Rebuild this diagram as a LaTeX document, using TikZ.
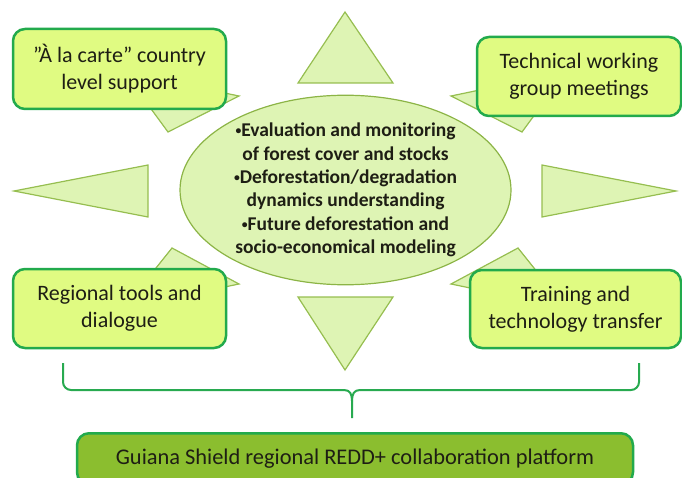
\documentclass[tikz,border=0pt]{standalone}
\usepackage{fontspec}
\setmainfont{Carlito}
\usetikzlibrary{shapes.geometric}
\definecolor{boxfill}{RGB}{224,251,130}
\definecolor{boxline}{RGB}{34,170,76}
\definecolor{trifill}{RGB}{222,244,180}
\definecolor{triline}{RGB}{150,190,80}
\definecolor{ellline}{RGB}{140,180,70}
\definecolor{darkfill}{RGB}{139,190,47}
\definecolor{bracecol}{RGB}{40,170,80}
\definecolor{txt}{RGB}{30,30,20}
\newcommand{\smallbul}{\raisebox{0.22ex}{\scalebox{0.6}{\textbullet}}}
\tikzset{
  tri/.style={fill=trifill, draw=triline, line width=1.2pt, line join=miter},
  greenbox/.style={draw=boxline, fill=boxfill, line width=2.5pt, rounded corners=12pt,
    align=center, text=txt, font=\fontsize{22}{27}\selectfont, inner sep=0pt},
  platform/.style={draw=boxline, fill=darkfill, line width=2.5pt, rounded corners=12pt,
    align=center, text=txt, font=\fontsize{22.4}{27}\selectfont, inner xsep=0pt},
  core/.style={ellipse, draw=ellline, fill=trifill, line width=1.2pt, inner sep=0pt,
    align=center, text=txt, font=\bfseries\fontsize{19.5}{23.4}\selectfont},
  bracestyle/.style={draw=bracecol, line width=2pt, rounded corners=8pt}
}
\begin{document}
\begin{tikzpicture}[x=1pt,y=-1pt]
\useasboundingbox (0,0) rectangle (682,478);
% triangles
\draw[tri] (345,12) -- (393,83) -- (298,83) -- cycle;
\draw[tri] (298,297) -- (393,297) -- (345,370) -- cycle;
\draw[tri] (14,191) -- (148,165) -- (148,217) -- cycle;
\draw[tri] (542,165) -- (676,191) -- (542,217) -- cycle;
\draw[tri] (124,72) -- (239,96) -- (168,132) -- cycle;
\draw[tri] (566,72) -- (451,96) -- (522,132) -- cycle;
\draw[tri] (124,308) -- (239,284) -- (172,248) -- cycle;
\draw[tri] (566,308) -- (451,284) -- (518,248) -- cycle;
% centre ellipse
\node[core, minimum width=331pt, minimum height=178pt] (core) at (345.5,190)
  {\smallbul Evaluation and monitoring\\of forest cover and stocks\\\smallbul Deforestation/degradation\\dynamics understanding\\\smallbul Future deforestation and\\socio-economical modeling};
% boxes
\node[greenbox, minimum width=213pt, minimum height=80pt] (carte) at (119.5,69)
  {”À la carte” country\\level support};
\node[greenbox, minimum width=204pt, minimum height=79pt] (tech) at (579,76.5)
  {Technical working\\group meetings};
\node[greenbox, minimum width=213pt, minimum height=79pt] (regional) at (119.5,308.5)
  {Regional tools and\\dialogue};
\node[greenbox, minimum width=211pt, minimum height=78pt] (training) at (575.5,309)
  {Training and\\technology transfer};
\node[platform, minimum width=556pt, anchor=north, inner ysep=15pt, text height=16pt, text depth=5pt] (platform) at (355,432)
  {Guiana Shield regional REDD+ collaboration platform};
% brace
\coordinate (bl) at (63,363);
\coordinate (br) at (639,363);
\coordinate (bm) at (352,418);
\draw[bracestyle] (bl) -- (63,390) -- (344,390);
\draw[bracestyle] (br) -- (639,390) -- (360,390);
\draw[draw=bracecol, line width=2pt] (344,390) .. controls (350,390) and (352,394) .. (352,401) -- (bm);
\draw[draw=bracecol, line width=2pt] (360,390) .. controls (354,390) and (352,394) .. (352,401);
\end{tikzpicture}
\end{document}
